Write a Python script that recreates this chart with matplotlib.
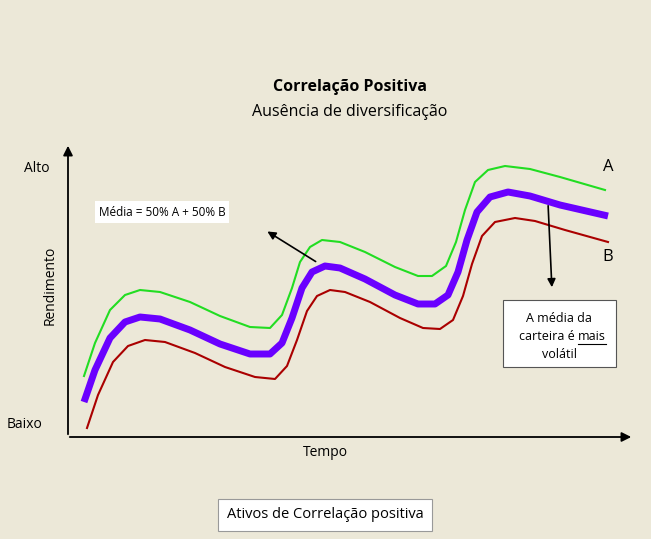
import numpy as np
import matplotlib.pyplot as plt

plt.rcParams['font.family'] = 'Open Sans'

# curve samples (x, y in image pixels)
x_media = [84, 95, 110, 125, 140, 160, 190, 220, 250, 270, 282, 292, 302, 312, 325, 340, 365, 395, 418, 435, 448, 458, 467, 477, 490, 508, 530, 560, 608]
y_media = [402, 370, 338, 322, 317, 319, 330, 344, 354, 354, 343, 318, 288, 272, 266, 268, 279, 295, 304, 304, 295, 272, 240, 212, 197, 192, 196, 205, 216]

x_a = [84, 95, 110, 125, 140, 160, 190, 220, 250, 270, 282, 292, 300, 310, 322, 340, 365, 395, 418, 432, 446, 456, 465, 475, 488, 505, 530, 560, 605]
y_a = [376, 343, 310, 295, 290, 292, 302, 316, 327, 328, 315, 288, 262, 247, 240, 242, 252, 267, 276, 276, 266, 242, 210, 182, 170, 166, 169, 177, 190]

x_b = [87, 98, 113, 128, 145, 165, 195, 225, 255, 275, 287, 297, 307, 317, 330, 345, 370, 400, 423, 440, 453, 463, 472, 482, 495, 515, 535, 565, 608]
y_b = [428, 395, 362, 346, 340, 342, 353, 367, 377, 379, 366, 340, 311, 296, 290, 292, 302, 318, 328, 329, 320, 296, 264, 236, 222, 218, 221, 230, 242]

titulo = 'Correlação Positiva'
subtitulo = 'Ausência de diversificação'

bg = '#ece8d8'
fig = plt.figure(figsize=(6.51, 5.39), dpi=100, facecolor=bg)
ax = fig.add_axes([0, 0, 1, 1], facecolor=bg)
ax.set_xlim(0, 651)
ax.set_ylim(539, 0)
ax.axis('off')

ax.plot(x_a, y_a, color='#22dd22', lw=1.5, solid_joinstyle='round')
ax.plot(x_b, y_b, color='#aa0000', lw=1.5, solid_joinstyle='round')
ax.plot(x_media, y_media, color='#6a00ff', lw=5, solid_joinstyle='round', solid_capstyle='butt')

# axes arrows
ax.annotate('', xy=(68, 143), xytext=(68, 437),
            arrowprops=dict(arrowstyle='-|>', color='black', lw=1.3, mutation_scale=14))
ax.annotate('', xy=(634, 437), xytext=(67, 437),
            arrowprops=dict(arrowstyle='-|>', color='black', lw=1.3, mutation_scale=14))

ax.text(350, 87, titulo, ha='center', va='center', fontsize=11.5, fontweight='bold')
ax.text(350, 112, subtitulo, ha='center', va='center', fontsize=11.5)
ax.text(37, 168, 'Alto', ha='center', va='center', fontsize=10)
ax.text(25, 425, 'Baixo', ha='center', va='center', fontsize=10)
ax.text(50, 285, 'Rendimento', ha='center', va='center', fontsize=10, rotation=90)
ax.text(325, 452, 'Tempo', ha='center', va='center', fontsize=10)
ax.text(608, 167, 'A', ha='center', va='center', fontsize=12)
ax.text(608, 257, 'B', ha='center', va='center', fontsize=12)

ax.text(162, 212, 'Média = 50% A + 50% B', ha='center', va='center', fontsize=8.5,
        bbox=dict(boxstyle='square,pad=0.35', fc='white', ec='none'))
ax.annotate('', xy=(265, 230), xytext=(318, 263),
            arrowprops=dict(arrowstyle='-|>', color='black', lw=1.2, mutation_scale=12))
ax.annotate('', xy=(552, 290), xytext=(548, 203),
            arrowprops=dict(arrowstyle='-|>', color='black', lw=1.2, mutation_scale=12))

# note box
ax.add_patch(plt.Rectangle((503, 300), 113, 67, fc='white', ec='#555555', lw=0.8))
ax.text(559, 318, 'A média da', ha='center', va='center', fontsize=9)
ax.text(578, 337, 'carteira é ', ha='right', va='center', fontsize=9)
t_mais = ax.text(578, 337, 'mais', ha='left', va='center', fontsize=9)
ax.text(559, 355, 'volátil', ha='center', va='center', fontsize=9)
fig.canvas.draw()
bb = t_mais.get_window_extent().transformed(ax.transData.inverted())
ax.plot([bb.x0, bb.x1], [344, 344], color='black', lw=0.8)

ax.text(325, 515, 'Ativos de Correlação positiva', ha='center', va='center', fontsize=10.5,
        bbox=dict(boxstyle='square,pad=0.6', fc='white', ec='#999999', lw=0.8))

fig.savefig('out.png', dpi=100, facecolor=bg)
